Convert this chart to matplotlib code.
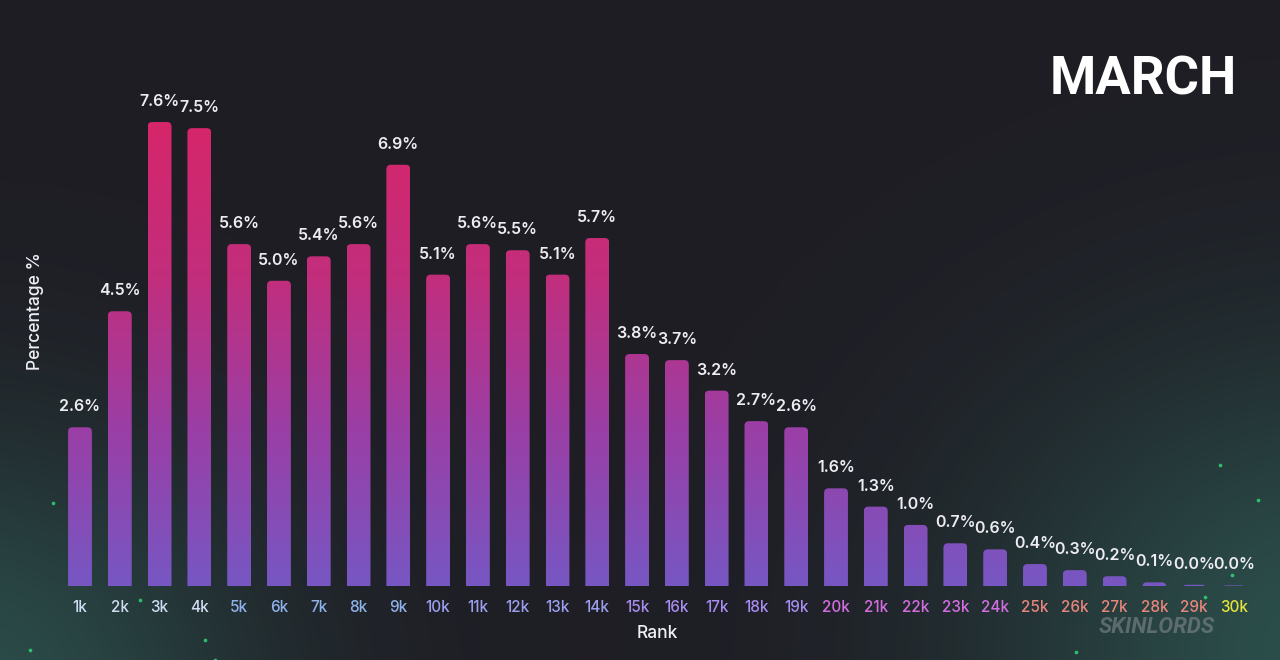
import numpy as np
import matplotlib
matplotlib.use("Agg")
import matplotlib.pyplot as plt
from matplotlib.patches import FancyBboxPatch
from matplotlib.colors import LinearSegmentedColormap

# ---- data ----
ranks = ["1k", "2k", "3k", "4k", "5k", "6k", "7k", "8k", "9k", "10k",
         "11k", "12k", "13k", "14k", "15k", "16k", "17k", "18k", "19k", "20k",
         "21k", "22k", "23k", "24k", "25k", "26k", "27k", "28k", "29k", "30k"]
percent = [2.6, 4.5, 7.6, 7.5, 5.6, 5.0, 5.4, 5.6, 6.9, 5.1,
           5.6, 5.5, 5.1, 5.7, 3.8, 3.7, 3.2, 2.7, 2.6, 1.6,
           1.3, 1.0, 0.7, 0.6, 0.36, 0.26, 0.16, 0.06, 0.02, 0.01]
title = "MARCH"

# ---- style ----
BG = "#1e1d24"
FONT = ["Inter", "DejaVu Sans"]
plt.rcParams["font.family"] = FONT
tick_colors = (["#cfdcf2"] * 4 + ["#8fb2ea"] * 5 + ["#9c9ff0"] * 5 +
               ["#a88cf0"] * 5 + ["#d46ee2"] * 5 + ["#e8857c"] * 5 + ["#e6e43c"])

W, H = 1280, 660
fig = plt.figure(figsize=(W / 100, H / 100), dpi=100, facecolor=BG)

# background glow
bg = fig.add_axes([0, 0, 1, 1], zorder=-10)
bg.set_axis_off()
yy, xx = np.mgrid[0:H, 0:W]
def glow(cx, cy, rx, ry):
    d = ((xx - cx) / rx) ** 2 + ((yy - cy) / ry) ** 2
    return np.exp(-d)
g = 0.8 * glow(-40, 690, 300, 260) + 0.85 * glow(1340, 650, 360, 300)
g = np.clip(g, 0, 1)[..., None]
base = np.array([0x1e, 0x1d, 0x24]) / 255
teal = np.array([0x2e, 0x58, 0x52]) / 255
img = base * (1 - g) + teal * g
bg.imshow(img, extent=[0, W, H, 0], aspect="auto")
bg.set_xlim(0, W)
bg.set_ylim(H, 0)

# a few particles
pts_x = [53, 140, 205, 30, 1220, 1258, 1232, 1076, 215, 1205]
pts_y = [503, 600, 640, 650, 465, 500, 575, 652, 660, 597]
bg.scatter(pts_x, pts_y, s=7, color="#2fe07a", alpha=0.8, linewidths=0)

# main axes
px_per_unit = 39.79
x0_px = 80
left_px, right_px = 50, 1270
base_px = 586  # from top
ppp = 61.05   # pixels per percent
top_px = 20
ax = fig.add_axes([left_px / W, (H - base_px) / H, (right_px - left_px) / W, (base_px - top_px) / H])
ax.set_facecolor("none")
for s in ax.spines.values():
    s.set_visible(False)
ax.set_yticks([])

cmap = LinearSegmentedColormap.from_list("bar", ["#7757c3", "#9a3fa6", "#c22e7c", "#d6266a"])
grad = np.linspace(0, 1, 256)[:, None]
ymax = 7.6
bw = 0.6
rx = 4.5 / px_per_unit
aspect = px_per_unit / ppp
for i, v in enumerate(percent):
    patch = FancyBboxPatch((i - bw / 2, -1), bw, v + 1,
                           boxstyle=f"round,pad=0,rounding_size={rx}",
                           mutation_aspect=aspect,
                           facecolor="none", edgecolor="none",
                           transform=ax.transData)
    ax.add_patch(patch)
    im = ax.imshow(grad, cmap=cmap, origin="lower", aspect="auto",
                   extent=[i - bw / 2, i + bw / 2, 0, ymax], zorder=2,
                   interpolation="bilinear")
    im.set_clip_path(patch)
    ax.annotate(f"{v:.1f}%", (i, v), xytext=(0, 11.5), textcoords="offset points",
                ha="center", va="baseline", color="#ececf2", fontsize=11.5,
                fontweight="semibold")

ax.set_xlim((left_px - x0_px) / px_per_unit, (right_px - x0_px) / px_per_unit)
ax.set_ylim(0, (base_px - top_px) / ppp)
ax.set_xticks(range(len(ranks)))
ax.set_xticklabels(ranks, fontsize=11, fontweight="medium")
for lbl, c in zip(ax.get_xticklabels(), tick_colors):
    lbl.set_color(c)
ax.tick_params(axis="x", length=0, pad=10)

fig.text(657 / W, 1 - 634 / H, "Rank", ha="center", va="center",
         color="#f0f0f4", fontsize=12.5, fontweight="medium")
fig.text(35 / W, 1 - 311 / H, "Percentage %", ha="center", va="center",
         rotation=90, color="#f0f0f4", fontsize=12.5, fontweight="medium")
fig.text(1143 / W, 1 - 80 / H, title, ha="center", va="center",
         color="#ffffff", fontsize=38, fontweight="bold", family=["Roboto", "DejaVu Sans"])
fig.text(1157 / W, 1 - 627 / H, "SKINLORDS", ha="center", va="center",
         color="#8a8f94", alpha=0.55, fontsize=16, fontweight="bold", style="italic",
         family=["Roboto", "DejaVu Sans"])

fig.savefig("out.png", dpi=100, facecolor=BG)
